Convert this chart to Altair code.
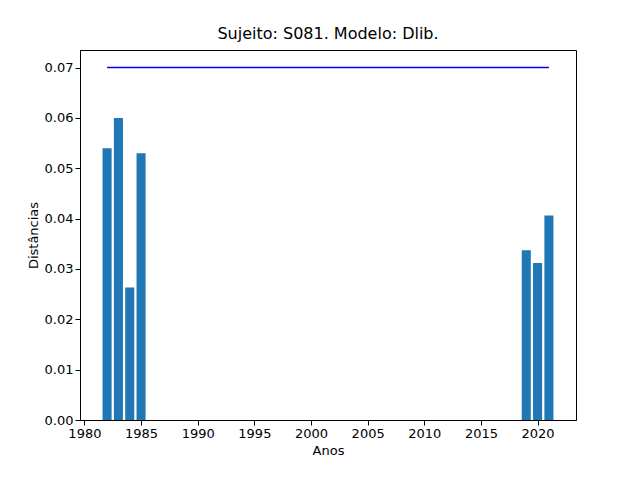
import altair as alt
import pandas as pd

years = [1982, 1983, 1984, 1985, 2019, 2020, 2021]
distances = [0.054, 0.060, 0.0263, 0.053, 0.0337, 0.0312, 0.0406]
threshold = 0.07
line_years = [1982, 2021]

bars = pd.DataFrame({"ano": years, "dist": distances})
bars["x0"] = bars["ano"] - 0.4
bars["x1"] = bars["ano"] + 0.4
bars["base"] = 0.0
line = pd.DataFrame({"ano": line_years, "dist": [threshold] * 2})

xs = alt.Scale(domain=[1979.61, 2023.39], nice=False, zero=False, padding=0)
ys = alt.Scale(domain=[0, 0.0735], nice=False, padding=0)
font = "DejaVu Sans"

bar = alt.Chart(bars).mark_bar(color="#1f77b4").encode(
    x=alt.X("x0:Q", scale=xs, title="Anos",
            axis=alt.Axis(values=list(range(1980, 2021, 5)), format="d")),
    x2="x1",
    y=alt.Y("dist:Q", scale=ys, title="Distâncias",
            axis=alt.Axis(values=[i / 100 for i in range(8)], format=".2f")),
    y2="base",
)

rule = alt.Chart(line).mark_line(color="blue", strokeWidth=1.5).encode(
    x=alt.X("ano:Q", scale=xs), y=alt.Y("dist:Q", scale=ys)
)

chart = alt.layer(bar, rule).properties(
    width=496, height=370,
    title=alt.TitleParams("Sujeito: S081. Modelo: Dlib.", font=font,
                          fontSize=16, fontWeight="normal", offset=8),
    autosize=alt.AutoSizeParams(type="none"),
    padding={"left": 72, "top": 42, "right": 56, "bottom": 44},
).configure_axis(
    grid=False, labelFont=font, titleFont=font, labelFontSize=13,
    titleFontSize=13, titleFontWeight="normal", labelColor="black",
    titleColor="black", domainColor="black", tickColor="black",
    labelFlush=False,
).configure_view(stroke="black", strokeWidth=1)

chart.save("out.html", embed_options={"renderer": "svg", "actions": False})
